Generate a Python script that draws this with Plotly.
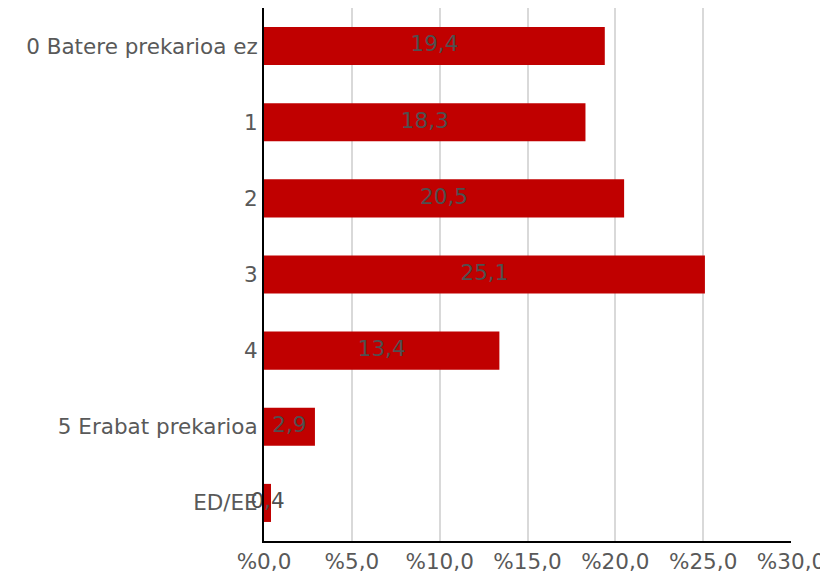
import plotly.graph_objects as go

categories = ["0 Batere prekarioa ez", "1", "2", "3", "4", "5 Erabat prekarioa", "ED/EE"]
values = [19.4, 18.3, 20.5, 25.1, 13.4, 2.9, 0.4]
tick_vals = [0, 5, 10, 15, 20, 25, 30]
tick_text = ["%0,0", "%5,0", "%10,0", "%15,0", "%20,0", "%25,0", "%30,0"]

labels = [f"{v:.1f}".replace(".", ",") for v in values]

fig = go.Figure()
fig.add_trace(go.Bar(
    x=values, y=categories, orientation="h",
    marker=dict(color="#C00000", line=dict(width=0)),
    width=0.5, hoverinfo="skip",
))
fig.add_trace(go.Scatter(
    x=[v / 2 for v in values], y=categories, mode="text",
    text=labels, textposition="middle center",
    textfont=dict(family="DejaVu Sans", size=21.5, color="#4F4F4F"),
    hoverinfo="skip", cliponaxis=False,
))

fig.update_layout(
    width=820, height=567,
    margin=dict(l=256, r=37, t=0, b=34),
    paper_bgcolor="white", plot_bgcolor="white",
    showlegend=False,
    font=dict(family="DejaVu Sans", size=21.5, color="#595959"),
    xaxis=dict(
        range=[0, 30], tickvals=tick_vals, ticktext=tick_text,
        showgrid=True, gridcolor="#D9D9D9", gridwidth=2,
        showline=True, linecolor="black", linewidth=2,
        zeroline=False, ticks="", ticklen=0,
        ticklabeloverflow="allow", automargin=False,
        tickfont=dict(size=21.5, color="#595959"),
    ),
    yaxis=dict(
        categoryorder="array", categoryarray=categories[::-1],
        range=[-0.5, 6.5],
        showgrid=False, showline=True, linecolor="black", linewidth=2,
        zeroline=False, ticks="", ticklen=0,
        tickfont=dict(size=21.5, color="#595959"),
    ),
)

fig.write_html("out.html")
